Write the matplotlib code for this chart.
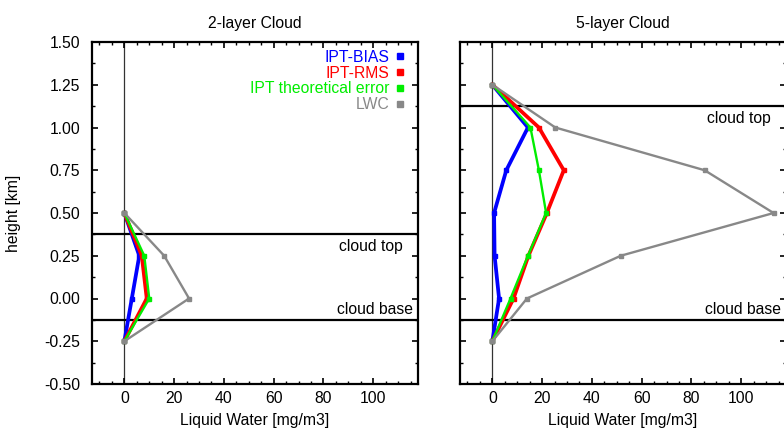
import matplotlib
matplotlib.use("Agg")
import matplotlib.pyplot as plt
from matplotlib.lines import Line2D
from matplotlib.ticker import MultipleLocator, FormatStrFormatter

plt.rcParams['font.family'] = ['Liberation Sans', 'DejaVu Sans']

# ---- data ----
h2 = [-0.25, 0.0, 0.25, 0.5]
bias2 = [0, 3, 6, 0]
rms2 = [0, 9, 7, 0]
theo2 = [0, 10, 8, 0]
lwc2 = [0, 26, 16, 0]

h5 = [-0.25, 0.0, 0.25, 0.5, 0.75, 1.0, 1.25]
bias5 = [0, 2.7, 0.9, 0.7, 5.6, 14.3, 0]
rms5 = [0, 8.5, 14.5, 21.9, 28.7, 18.7, 0]
theo5 = [0, 7.3, 14.3, 21.6, 18.7, 15.3, 0]
lwc5 = [0, 13.9, 51.6, 113, 85.3, 25.3, 0]

titles = ["2-layer Cloud", "5-layer Cloud"]
cloud_top = [0.375, 1.125]
cloud_base = [-0.125, -0.125]
series_names = ["IPT-BIAS", "IPT-RMS", "IPT theoretical error", "LWC"]
colors = ["#0000ff", "#ff0000", "#00ee00", "#888888"]
widths = [2.7, 2.7, 1.7, 1.7]

FS = 11.3
W, H = 784, 430
fig = plt.figure(figsize=(W / 100, H / 100), dpi=100)
ax_w = 326 / W
ax_b = (H - 384) / H
ax_h = (384 - 42) / H
axL = fig.add_axes([92 / W, ax_b, ax_w, ax_h])
axR = fig.add_axes([460 / W, ax_b, ax_w, ax_h])

panels = [(axL, h2, [bias2, rms2, theo2, lwc2]), (axR, h5, [bias5, rms5, theo5, lwc5])]

for i, (ax, h, vals) in enumerate(panels):
    ax.axvline(0, color="#333333", lw=0.9, zorder=1)
    ax.axhline(cloud_top[i], color="black", lw=1.6, zorder=2)
    ax.axhline(cloud_base[i], color="black", lw=1.6, zorder=2)
    for v, c, lw in zip(vals, colors, widths):
        ax.plot(v, h, color=c, lw=lw, marker="s", ms=3.4, mec=c, mfc=c, zorder=3)
    ax.set_xlim(-13, 118)
    ax.set_ylim(-0.5, 1.5)
    ax.xaxis.set_major_locator(MultipleLocator(20))
    ax.xaxis.set_minor_locator(MultipleLocator(5))
    ax.yaxis.set_major_locator(MultipleLocator(0.25))
    ax.yaxis.set_minor_locator(MultipleLocator(0.125))
    ax.tick_params(which="both", direction="in", top=True, right=True, labelsize=FS)
    ax.tick_params(which="major", length=4, width=1.2, pad=5)
    ax.tick_params(which="minor", length=2, width=1)
    ax.tick_params(axis="y", pad=8.5)
    for s in ax.spines.values():
        s.set_linewidth(1.6)
    ax.set_xlabel("Liquid Water [mg/m3]", fontsize=FS, labelpad=5)
    ax.set_title(titles[i], fontsize=FS, pad=10)
    ax.text(112, cloud_top[i] - 0.07, "cloud top", ha="right", va="center", fontsize=FS)
    ax.text(116, cloud_base[i] + 0.06, "cloud base", ha="right", va="center", fontsize=FS)

axL.yaxis.set_major_formatter(FormatStrFormatter("%.2f"))
axL.set_ylabel("height [km]", fontsize=FS, labelpad=16.5)
axR.tick_params(axis="y", labelleft=False)

handles = [Line2D([], [], ls="none", marker="s", ms=3.8, color=c) for c in colors]
leg = axL.legend(handles, series_names, loc="upper right", bbox_to_anchor=(0.985, 1.0),
                 frameon=False, markerfirst=False,
                 fontsize=FS, handlelength=0.7, handletextpad=0.3, labelspacing=0.05,
                 borderaxespad=0.1, labelcolor=colors)

fig.savefig("out.png", dpi=100)
